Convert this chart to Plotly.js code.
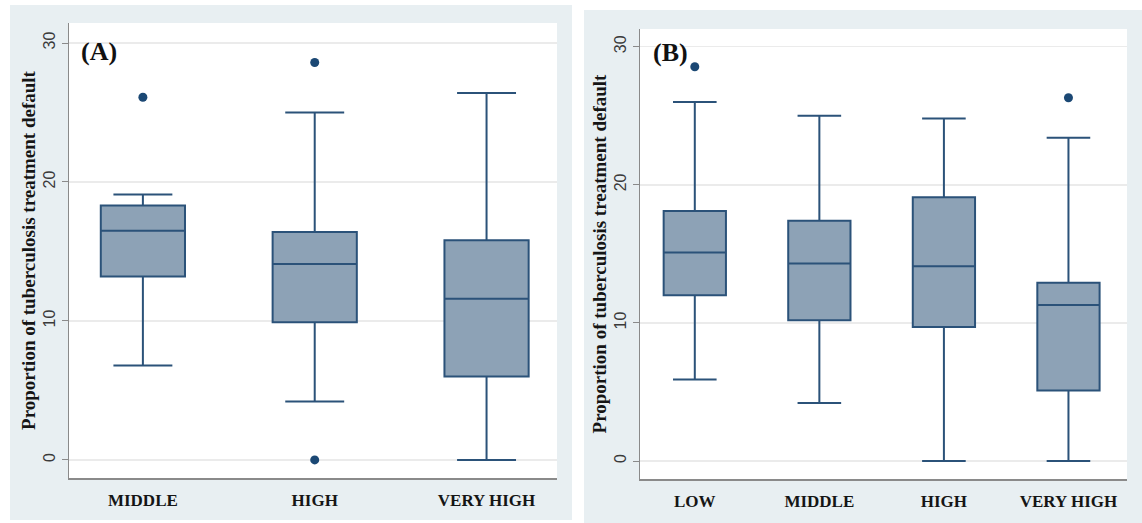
<!DOCTYPE html>
<html>
<head>
<meta charset="utf-8">
<script src="https://cdn.plot.ly/plotly-3.0.1.min.js"></script>
<style>html,body{margin:0;padding:0;background:#fff;}#chart{width:1142px;height:523px;}</style>
</head>
<body>
<div id="chart"></div>
<script>
// Panel A data
const catsA = ['MIDDLE', 'HIGH', 'VERY HIGH'];
const q1A = [13.2, 9.9, 6.0];
const medA = [16.5, 14.1, 11.6];
const q3A = [18.3, 16.4, 15.8];
const lowA = [6.8, 4.2, 0];
const upA = [19.1, 25.0, 26.4];
const outCatA = ['MIDDLE', 'HIGH', 'HIGH'];
const outValA = [26.1, 28.6, 0];

// Panel B data
const catsB = ['LOW', 'MIDDLE', 'HIGH', 'VERY HIGH'];
const q1B = [12.0, 10.2, 9.7, 5.1];
const medB = [15.1, 14.3, 14.1, 11.3];
const q3B = [18.1, 17.4, 19.1, 12.9];
const lowB = [5.9, 4.2, 0, 0];
const upB = [26.0, 25.0, 24.8, 23.4];
const outCatB = ['LOW', 'VERY HIGH'];
const outValB = [28.55, 26.3];

const yTicks = [0, 10, 20, 30];
const yTitle = 'Proportion of tuberculosis treatment default';

const W = 1142, H = 523;
const boxFill = '#8da2b6';
const boxLine = '#2b5279';
const dotColor = '#1b4874';

function boxTrace(cats, q1, med, q3, lo, up, xa, ya, w) {
  return {
    type: 'box', x: cats, q1: q1, median: med, q3: q3,
    lowerfence: lo, upperfence: up,
    xaxis: xa, yaxis: ya, width: w, whiskerwidth: 0.7,
    fillcolor: boxFill, line: {color: boxLine, width: 2},
    boxpoints: false, showlegend: false, hoverinfo: 'y'
  };
}
function dotTrace(cats, vals, xa, ya) {
  return {
    type: 'scatter', mode: 'markers', x: cats, y: vals, xaxis: xa, yaxis: ya,
    marker: {color: dotColor, size: 9, symbol: 'circle'}, showlegend: false
  };
}

const data = [
  boxTrace(catsA, q1A, medA, q3A, lowA, upA, 'x', 'y', 0.49),
  dotTrace(outCatA, outValA, 'x', 'y'),
  boxTrace(catsB, q1B, medB, q3B, lowB, upB, 'x2', 'y2', 0.5),
  dotTrace(outCatB, outValB, 'x2', 'y2')
];

const xAxisCommon = {
  type: 'category', showline: true, linecolor: '#8a8a8a', linewidth: 1.5,
  showgrid: false, zeroline: false, ticks: '', ticklabelstandoff: 6,
  tickfont: {family: 'Liberation Serif', size: 17, color: '#151515', weight: 'bold'},
  fixedrange: true
};
const yAxisCommon = {
  tickvals: yTicks, ticks: 'outside', ticklen: 6, tickcolor: '#8a8a8a', tickwidth: 1,
  tickangle: -90, showline: true, linecolor: '#8a8a8a', linewidth: 1.5,
  showgrid: true, gridcolor: '#ebebeb', gridwidth: 1.5, zeroline: false,
  tickfont: {family: 'Liberation Sans', size: 16, color: '#3a3a3a'},
  title: {text: yTitle, standoff: 0, font: {family: 'Liberation Serif', size: 19, color: '#151515', weight: 'bold'}},
  fixedrange: true
};

const domA = {x: [69 / W, 557 / W], y: [(H - 478) / H, (H - 23) / H]};
const domB = {x: [640 / W, 1127 / W], y: [(H - 479) / H, (H - 29) / H]};

const layout = {
  width: W, height: H,
  margin: {l: 0, r: 0, t: 0, b: 0},
  paper_bgcolor: '#ffffff', plot_bgcolor: 'rgba(0,0,0,0)',
  showlegend: false,
  xaxis: Object.assign({}, xAxisCommon, {domain: domA.x, anchor: 'y', range: [-0.43, 2.41]}),
  yaxis: Object.assign({}, yAxisCommon, {domain: domA.y, anchor: 'x', range: [-1.3, 31.44]}),
  xaxis2: Object.assign({}, xAxisCommon, {domain: domB.x, anchor: 'y2', range: [-0.44, 3.47]}),
  yaxis2: Object.assign({}, yAxisCommon, {domain: domB.y, anchor: 'x2', range: [-1.3, 31.28]}),
  shapes: [
    {type: 'rect', xref: 'paper', yref: 'paper', layer: 'below',
     x0: 10 / W, x1: 572 / W, y0: 3 / H, y1: (H - 5) / H,
     fillcolor: '#e8eff2', line: {width: 0}},
    {type: 'rect', xref: 'paper', yref: 'paper', layer: 'below',
     x0: 584 / W, x1: 1, y0: 0, y1: (H - 10) / H,
     fillcolor: '#e8eff2', line: {width: 0}},
    {type: 'rect', xref: 'paper', yref: 'paper', layer: 'below',
     x0: domA.x[0], x1: domA.x[1], y0: domA.y[0], y1: domA.y[1],
     fillcolor: '#ffffff', line: {width: 0}},
    {type: 'rect', xref: 'paper', yref: 'paper', layer: 'below',
     x0: domB.x[0], x1: domB.x[1], y0: domB.y[0], y1: domB.y[1],
     fillcolor: '#ffffff', line: {width: 0}}
  ],
  annotations: [
    {text: '(A)', xref: 'paper', yref: 'paper', x: 99 / W, y: (H - 51) / H,
     xanchor: 'center', yanchor: 'middle', showarrow: false,
     font: {family: 'Liberation Serif', size: 26, color: '#111', weight: 'bold'}},
    {text: '(B)', xref: 'paper', yref: 'paper', x: 670 / W, y: (H - 53) / H,
     xanchor: 'center', yanchor: 'middle', showarrow: false,
     font: {family: 'Liberation Serif', size: 26, color: '#111', weight: 'bold'}}
  ]
};

Plotly.newPlot('chart', data, layout, {displayModeBar: false, staticPlot: true});
</script>
</body>
</html>
